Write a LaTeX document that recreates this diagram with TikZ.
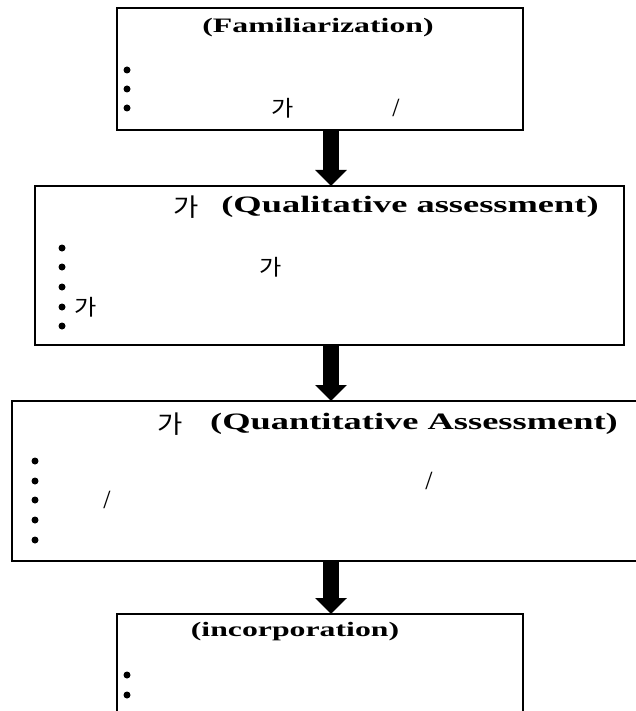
\documentclass[tikz,border=0pt]{standalone}
\usepackage{fontspec}
\setmainfont{Liberation Serif}
\newfontfamily\ttl[FakeStretch=1.55]{Liberation Serif}
\newfontfamily\kr[FakeStretch=1.1]{Noto Sans CJK KR}
\usetikzlibrary{arrows.meta}
\tikzset{
  box/.style={draw, line width=1.6pt, inner sep=0pt},
  dot/.style={circle, fill, inner sep=0pt, minimum size=7pt},
  bigarrow/.style={line width=16pt, -{Triangle[width=31pt,length=16pt]}},
  ttlsmall/.style={font=\ttl\bfseries\fontsize{20.5}{23}\selectfont},
  ttlbig/.style={font=\ttl\bfseries\fontsize{23.5}{26}\selectfont},
  krhead/.style={font=\kr\fontsize{25}{27}\selectfont},
  krbody/.style={font=\kr\fontsize{22}{24}\selectfont},
  slash/.style={font=\kr\fontsize{18}{20}\selectfont}
}
\begin{document}
\begin{tikzpicture}[x=1pt,y=-1pt,every node/.style={inner sep=0pt,outer sep=0pt}]
\useasboundingbox (0,0) rectangle (635,711);
% boxes
\node[box, minimum width=406pt, minimum height=122pt] (fam) at (320,69) {};
\node[box, minimum width=589pt, minimum height=159pt] (qual) at (329.5,265.5) {};
\node[box, minimum width=648pt, minimum height=160pt] (quan) at (336,481) {};
\node[box, minimum width=406pt, minimum height=132pt] (inc) at (320,680) {};
% titles
\node[ttlsmall] (famt) at (318,28) {(Familiarization)};
\node[krhead] (qualk) at (186,207) {가};
\node[ttlbig] (qualt) at (410,207) {(Qualitative assessment)};
\node[krhead] (quank) at (170,424) {가};
\node[ttlbig] (quant) at (414,424) {(Quantitative Assessment)};
\node[ttlsmall] (inct) at (295,632) {(incorporation)};
% bullets
\foreach \y [count=\i] in {70,89,108}
  \node[dot] (fa\i) at (127,\y) {};
\foreach \y [count=\i] in {248,267,287,307,326}
  \node[dot] (ql\i) at (62,\y) {};
\foreach \y [count=\i] in {461,481,500,520,540}
  \node[dot] (qn\i) at (35,\y) {};
\foreach \y [count=\i] in {675,695}
  \node[dot] (in\i) at (127,\y) {};
% line texts
\node[krbody] (fa3k) at (283,108) {가};
\node[slash] (fa3s) at (396,108) {/};
\node[krbody] (ql2k) at (271,267) {가};
\node[krbody] (ql4k) at (86,307) {가};
\node[slash] (qn2s) at (429,481) {/};
\node[slash] (qn3s) at (107,500) {/};
% arrows
\draw[bigarrow] ([xshift=11pt]fam.south) -- ([xshift=1.5pt]qual.north);
\draw[bigarrow] ([xshift=1.5pt]qual.south) -- ([xshift=-5pt]quan.north);
\draw[bigarrow] ([xshift=-5pt]quan.south) -- ([xshift=11pt]inc.north);
\end{tikzpicture}
\end{document}
